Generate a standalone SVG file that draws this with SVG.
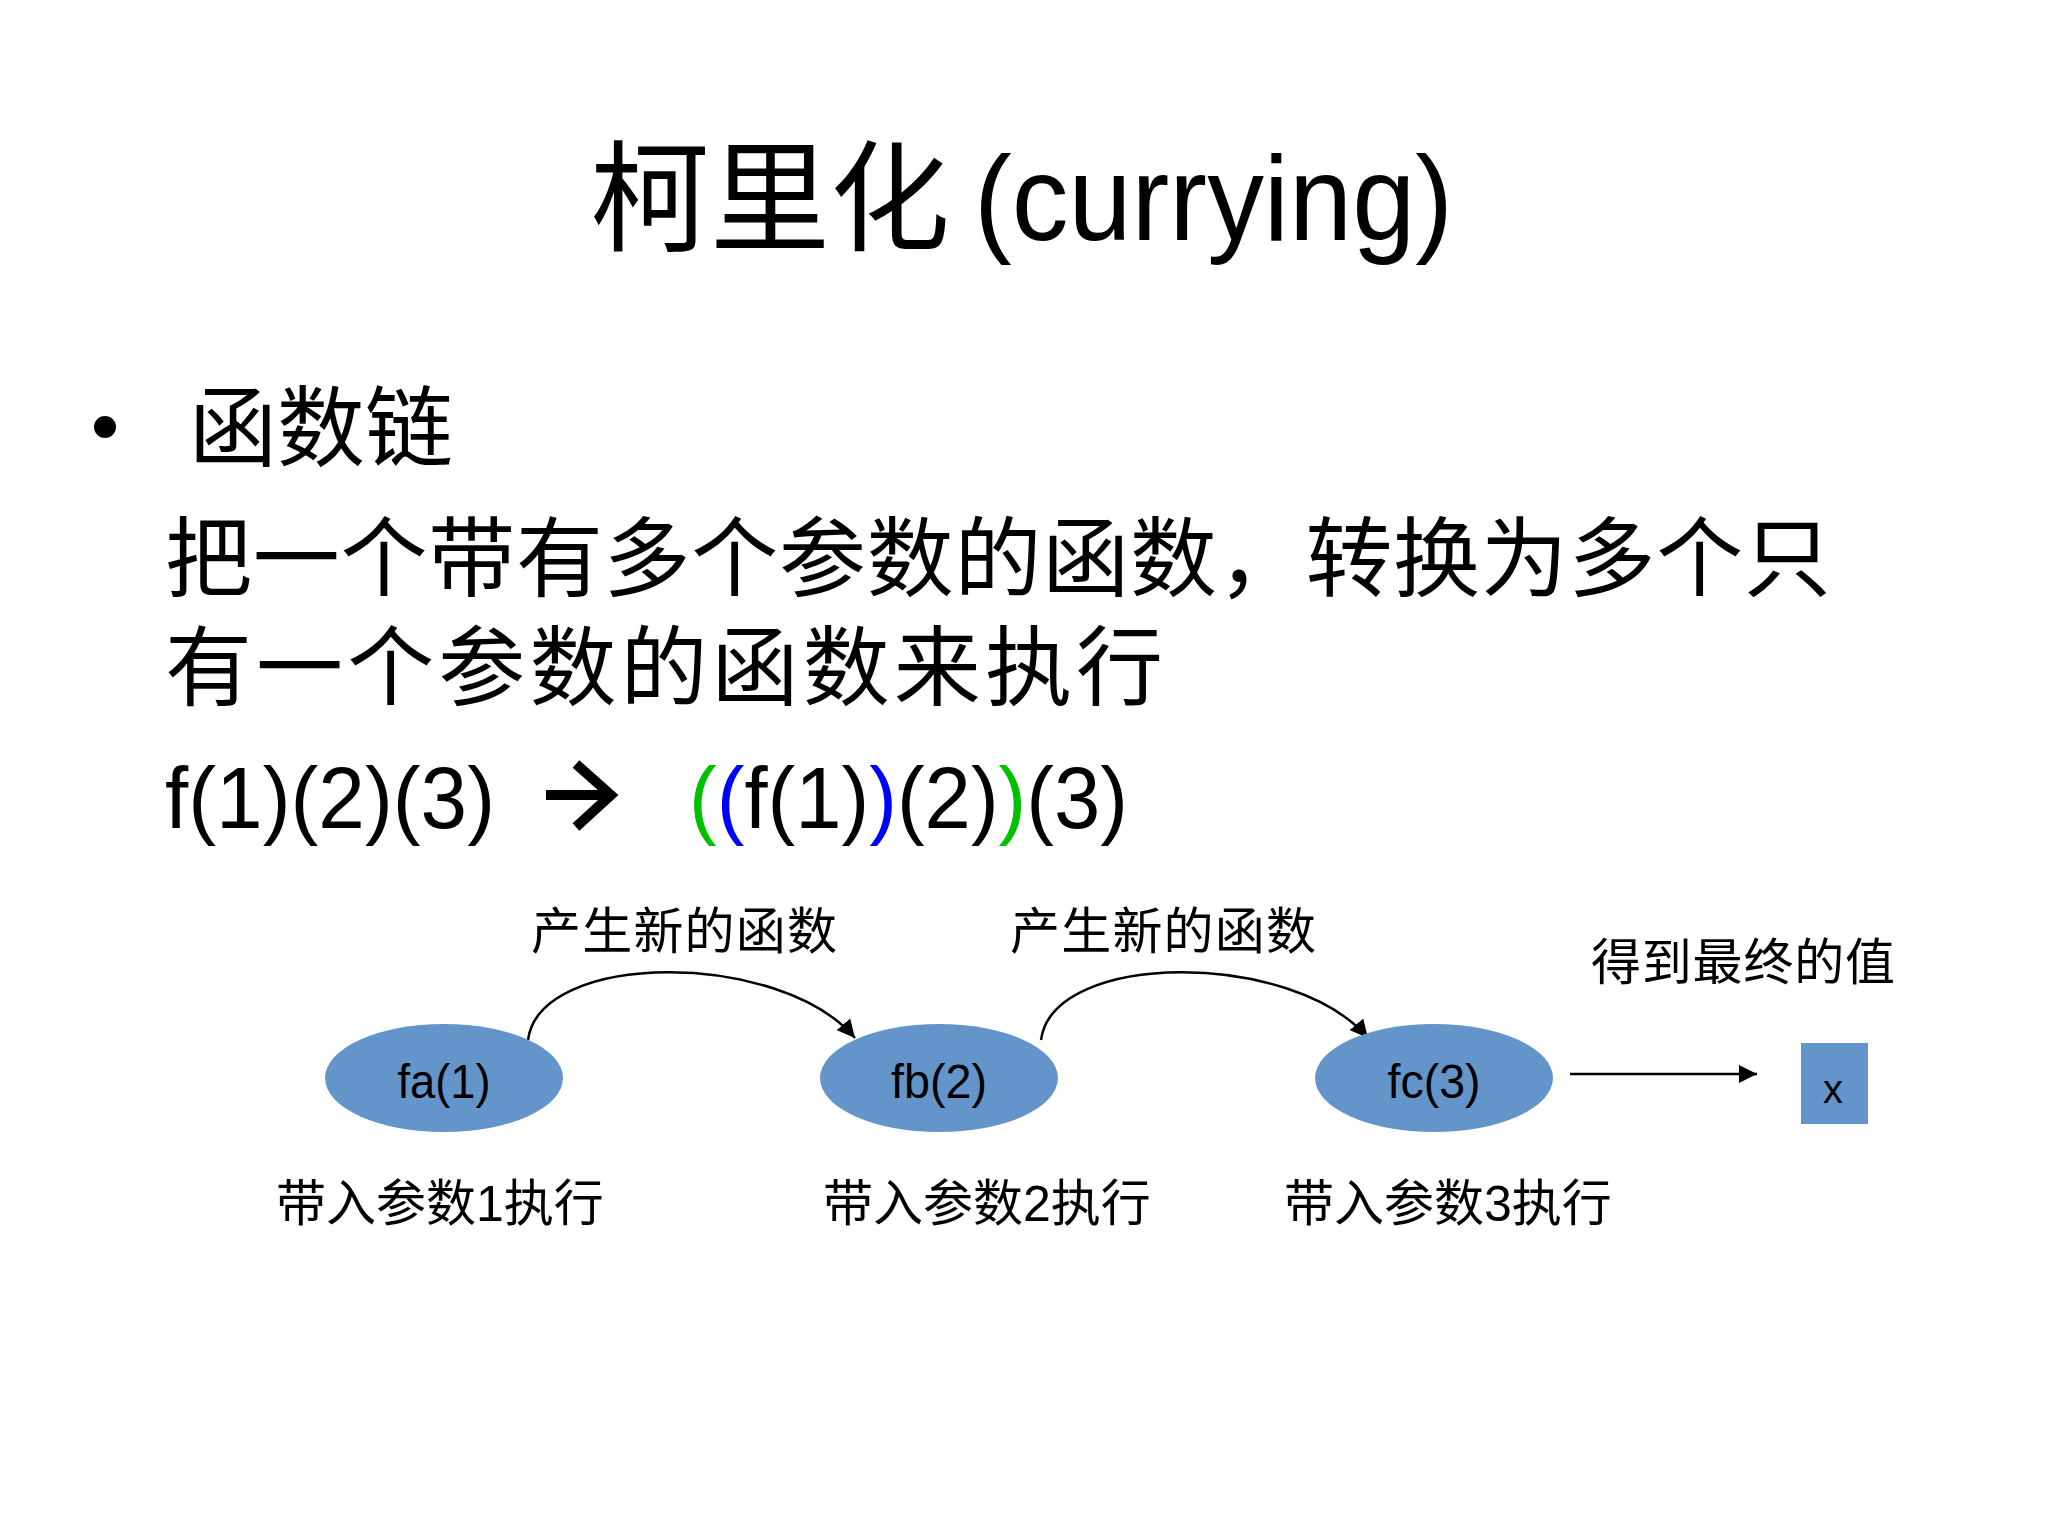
<svg xmlns="http://www.w3.org/2000/svg" width="2048" height="1536" viewBox="0 0 2048 1536">
  <defs>
    <style>
      .t { font-family: "Liberation Sans", "Noto Sans CJK SC", sans-serif; fill: #000; }
      .cjk { font-family: "Noto Sans CJK SC", sans-serif; fill: #000; }
      .node { fill: #6495CA; }
      .conn { fill: none; stroke: #000; stroke-width: 2.5; }
    </style>
    <marker id="ah" markerUnits="userSpaceOnUse" markerWidth="18" markerHeight="18" refX="16" refY="8" orient="auto" viewBox="0 0 16 16">
      <path d="M0,0 L16,8 L0,16 Z" fill="#000"/>
    </marker>
  </defs>
  <rect x="0" y="0" width="2048" height="1536" fill="#fff"/>

  <g id="title">
    <text class="cjk" x="590" y="242" font-size="120">柯里化</text>
    <text class="t" x="974" y="240" font-size="120" textLength="479" lengthAdjust="spacingAndGlyphs">(currying)</text>
  </g>

  <g id="bullet">
    <circle cx="105" cy="427" r="11" fill="#000"/>
    <text class="cjk" x="189" y="459" font-size="88">函数链</text>
    <text class="cjk" x="165" y="590" font-size="87" textLength="1666" lengthAdjust="spacing">把一个带有多个参数的函数，转换为多个只</text>
    <text class="cjk" x="165" y="699" font-size="87" textLength="998" lengthAdjust="spacing">有一个参数的函数来执行</text>
  </g>

  <g id="formula">
    <text class="t" x="165" y="828" font-size="88" textLength="330" lengthAdjust="spacingAndGlyphs">f(1)(2)(3)</text>
    <path d="M546,795 H608 M576,764 L611,795 L576,827" fill="none" stroke="#000" stroke-width="10"/>
    <text class="t" x="689" y="828" font-size="88" textLength="439" lengthAdjust="spacingAndGlyphs"><tspan fill="#00C000">(</tspan><tspan fill="#0000FF">(</tspan>f(1)<tspan fill="#0000FF">)</tspan>(2)<tspan fill="#00C000">)</tspan>(3)</text>
  </g>

  <g id="connectors">
    <path class="conn" d="M528,1040 C540,950 780,950 855,1038" marker-end="url(#ah)"/>
    <path class="conn" d="M1041,1040 C1053,950 1293,950 1368,1038" marker-end="url(#ah)"/>
    <line class="conn" x1="1570" y1="1074" x2="1757" y2="1074" marker-end="url(#ah)"/>
  </g>

  <g id="node-fa">
    <ellipse class="node" cx="444" cy="1078" rx="119" ry="54"/>
    <text class="t" x="444" y="1098" font-size="48" text-anchor="middle" textLength="93" lengthAdjust="spacingAndGlyphs">fa(1)</text>
  </g>
  <g id="node-fb">
    <ellipse class="node" cx="939" cy="1078" rx="119" ry="54"/>
    <text class="t" x="939" y="1098" font-size="48" text-anchor="middle" textLength="96" lengthAdjust="spacingAndGlyphs">fb(2)</text>
  </g>
  <g id="node-fc">
    <ellipse class="node" cx="1434" cy="1078" rx="119" ry="54"/>
    <text class="t" x="1434" y="1098" font-size="48" text-anchor="middle" textLength="93" lengthAdjust="spacingAndGlyphs">fc(3)</text>
  </g>
  <g id="node-x">
    <rect class="node" x="1801" y="1043" width="67" height="81"/>
    <text class="t" x="1833" y="1103" font-size="40" text-anchor="middle">x</text>
  </g>

  <g id="labels">
    <text class="cjk" x="531" y="949" font-size="50" textLength="306" lengthAdjust="spacing">产生新的函数</text>
    <text class="cjk" x="1010" y="949" font-size="50" textLength="306" lengthAdjust="spacing">产生新的函数</text>
    <text class="cjk" x="1591" y="980" font-size="50" textLength="304" lengthAdjust="spacing">得到最终的值</text>
    <text class="t" x="276" y="1221" font-size="50">带入参数1执行</text>
    <text class="t" x="823" y="1221" font-size="50">带入参数2执行</text>
    <text class="t" x="1284" y="1221" font-size="50">带入参数3执行</text>
  </g>
</svg>
